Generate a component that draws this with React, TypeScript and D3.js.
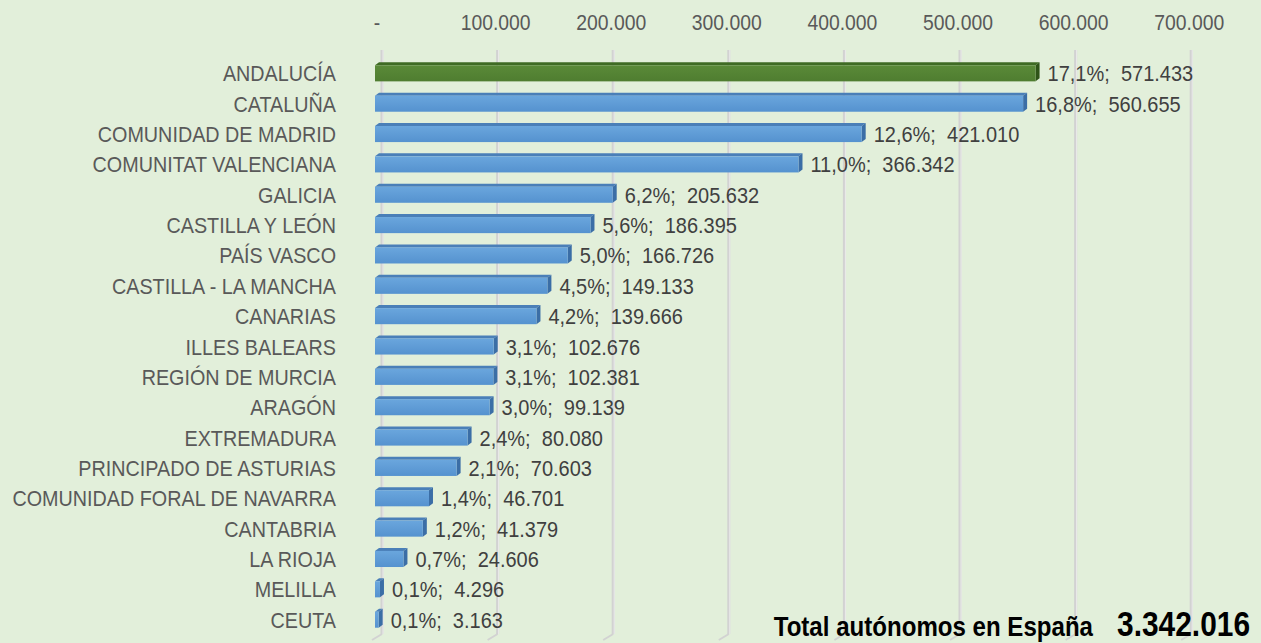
import React from "react";
import * as d3 from "d3";

const regions = [
  "ANDALUCÍA", "CATALUÑA", "COMUNIDAD DE MADRID", "COMUNITAT VALENCIANA", "GALICIA",
  "CASTILLA Y LEÓN", "PAÍS VASCO", "CASTILLA - LA MANCHA", "CANARIAS", "ILLES BALEARS",
  "REGIÓN DE MURCIA", "ARAGÓN", "EXTREMADURA", "PRINCIPADO DE ASTURIAS",
  "COMUNIDAD FORAL DE NAVARRA", "CANTABRIA", "LA RIOJA", "MELILLA", "CEUTA",
];
const values = [
  571433, 560655, 421010, 366342, 205632, 186395, 166726, 149133, 139666, 102676,
  102381, 99139, 80080, 70603, 46701, 41379, 24606, 4296, 3163,
];
const shares = [
  "17,1%", "16,8%", "12,6%", "11,0%", "6,2%", "5,6%", "5,0%", "4,5%", "4,2%", "3,1%",
  "3,1%", "3,0%", "2,4%", "2,1%", "1,4%", "1,2%", "0,7%", "0,1%", "0,1%",
];
const ticks = [0, 100000, 200000, 300000, 400000, 500000, 600000, 700000];
const tickLabels = ["-", "100.000", "200.000", "300.000", "400.000", "500.000", "600.000", "700.000"];
const totalLabel = "Total autónomos en España";
const totalValue = "3.342.016";

const W = 1261;
const H = 643;
const FONT = "'Liberation Sans', Arial, sans-serif";

function NText(props: {
  x: number; y: number; sx: number; size: number; anchor?: string; fill: string; weight?: string;
  children: React.ReactNode;
}) {
  const { x, y, sx, size, anchor, fill, weight, children } = props;
  return (
    <text transform={`translate(${x},${y}) scale(${sx},1)`} textAnchor={anchor || "start"}
      fontFamily={FONT} fontSize={size} fontWeight={weight || "normal"} fill={fill}>
      {children}
    </text>
  );
}

export default function App() {
  const x = d3.scaleLinear().domain([0, 700000]).range([375, 375 + 809.2]);
  const y = d3.scaleBand<string>().domain(regions).range([56, 633]).paddingInner(0.47).paddingOuter(0.24);
  const gdx = 7; // back wall offset
  const bdx = 4, bdy = -3; // bar depth
  const fmt = d3.format(",");
  const de = (v: number) => fmt(v).replace(/,/g, ".");
  const gridTop = 50, gridBottom = 634;

  return (
    <svg width={W} height={H} style={{ position: "absolute", left: 0, top: 0, display: "block", background: "#e2efda" }}>
      <defs>
        <linearGradient id="gb" x1="0" y1="0" x2="0" y2="1">
          <stop offset="0" stopColor="#6aa6dd" />
          <stop offset="1" stopColor="#5592cf" />
        </linearGradient>
        <linearGradient id="gg" x1="0" y1="0" x2="0" y2="1">
          <stop offset="0" stopColor="#5a8a38" />
          <stop offset="1" stopColor="#4f7d30" />
        </linearGradient>
      </defs>
      <rect x={0} y={0} width={W} height={H} fill="#e2efda" />
      {ticks.map((t) => {
        const gx = x(t) + gdx;
        return (
          <g key={t}>
            <line x1={gx} x2={gx} y1={gridTop} y2={gridBottom} stroke="#d2d2d2" strokeWidth={3} />
            <line x1={gx + 1} x2={gx + 1} y1={gridTop} y2={gridBottom} stroke="#ebebeb" strokeWidth={1} />
            <line x1={gx} x2={gx - 10} y1={gridBottom} y2={gridBottom + 6} stroke="#d2d2d2" strokeWidth={2} />
          </g>
        );
      })}
      {ticks.map((t, i) => (
        <NText key={"t" + t} x={x(t) + (i === 0 ? 2 : gdx - 2)} y={30} sx={0.9} size={21.5}
          anchor="middle" fill="#595959">{tickLabels[i]}</NText>
      ))}
      {regions.map((r, i) => {
        const v = values[i];
        const y0 = y(r)! + 2;
        const h = y.bandwidth();
        const x0 = x(0);
        const x1 = x(v);
        const green = i === 0;
        const front = green ? "url(#gg)" : "url(#gb)";
        const top = green ? "#3f6b24" : "#4a7fb8";
        const side = green ? "#2f5418" : "#3b6ea6";
        const base = y(r)! + h / 2 + 10;
        return (
          <g key={r}>
            <polygon points={`${x0},${y0} ${x0 + bdx},${y0 + bdy} ${x1 + bdx},${y0 + bdy} ${x1},${y0}`} fill={top} />
            <polygon points={`${x1},${y0} ${x1 + bdx},${y0 + bdy} ${x1 + bdx},${y0 + h + bdy} ${x1},${y0 + h}`} fill={side} />
            <rect x={x0} y={y0} width={x1 - x0} height={h} fill={front} />
            <NText x={x1 + bdx + 8} y={base} sx={0.93} size={21.5} fill="#404040">
              {shares[i]};{"\u00a0\u00a0"}{de(v)}
            </NText>
            <NText x={336} y={base} sx={0.92} size={21.5} anchor="end" fill="#595959">{r}</NText>
          </g>
        );
      })}
      <NText x={1093} y={636} sx={0.86} size={28} anchor="end" weight="bold" fill="#000">{totalLabel}</NText>
      <NText x={1250} y={636} sx={0.83} size={36} anchor="end" weight="bold" fill="#000">{totalValue}</NText>
    </svg>
  );
}
